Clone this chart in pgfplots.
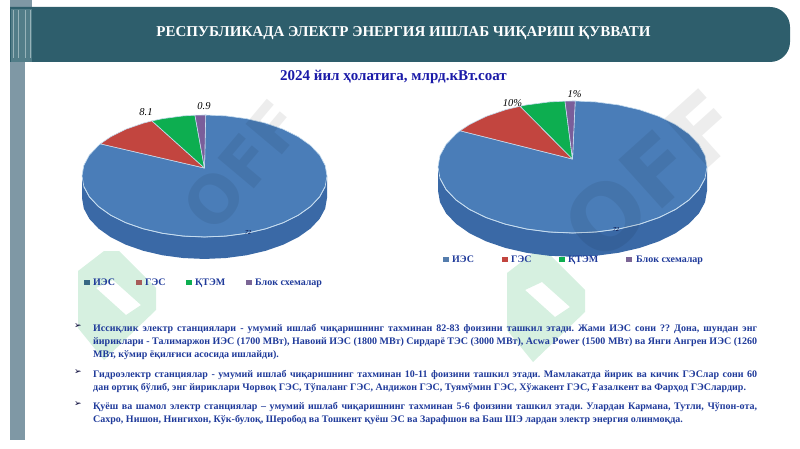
\documentclass[border=0pt]{standalone}
\usepackage{pgfplots}
\pgfplotsset{compat=1.18}
\usepackage{pgfplotstable}
\usepackage{fontspec}
\setmainfont{Liberation Serif}
\newfontfamily\dejavu{DejaVu Sans}
\frenchspacing
\definecolor{hdr}{HTML}{2E5E6C}
\definecolor{hdrl}{HTML}{6A929B}
\definecolor{strip}{HTML}{7F98A5}
\definecolor{pblue}{HTML}{4A7DB8}
\definecolor{pside}{HTML}{3A69A6}
\definecolor{pred}{HTML}{C2453F}
\definecolor{pgreen}{HTML}{0DAE50}
\definecolor{ppurple}{HTML}{7A5E9A}
\definecolor{rim}{HTML}{C5DCEF}
\definecolor{txtb}{HTML}{1F3A9A}
\definecolor{subt}{HTML}{1A1AA8}
\definecolor{wmg}{HTML}{D6F0E0}
\pgfplotsset{
 canvas/.style={at={(0pt,0pt)},anchor=south west,width=800pt,height=449pt,scale only axis,
   xmin=0,xmax=800,ymin=0,ymax=449,y dir=reverse,hide axis,clip=false},
 pie/.style={anchor=south west,scale only axis,xmin=-1,xmax=1,ymin=-1,ymax=1,hide axis,clip=false},
 wedge/.style={draw=rim,line width=0.6pt,fill=#1,no marks,line join=round},
}
% side wall and front rim, in units of the ellipse radii
\pgfplotstableread[row sep=\\]{x y\\
-1 0\\ -0.985 -0.174\\ -0.940 -0.342\\ -0.866 -0.5\\ -0.766 -0.643\\ -0.643 -0.766\\ -0.5 -0.866\\ -0.342 -0.940\\ -0.174 -0.985\\ 0 -1\\ 0.174 -0.985\\ 0.342 -0.940\\ 0.5 -0.866\\ 0.643 -0.766\\ 0.766 -0.643\\ 0.866 -0.5\\ 0.940 -0.342\\ 0.985 -0.174\\ 1 0\\
1 -0.36\\ 0.985 -0.534\\ 0.940 -0.702\\ 0.866 -0.86\\ 0.766 -1.003\\ 0.643 -1.126\\ 0.5 -1.226\\ 0.342 -1.30\\ 0.174 -1.345\\ 0 -1.36\\ -0.174 -1.345\\ -0.342 -1.30\\ -0.5 -1.226\\ -0.643 -1.126\\ -0.766 -1.003\\ -0.866 -0.86\\ -0.940 -0.702\\ -0.985 -0.534\\ -1 -0.36\\}\tside
\pgfplotstableread[row sep=\\]{x y\\
-0.985 -0.174\\ -0.940 -0.342\\ -0.866 -0.5\\ -0.766 -0.643\\ -0.643 -0.766\\ -0.5 -0.866\\ -0.342 -0.940\\ -0.174 -0.985\\ 0 -1\\ 0.174 -0.985\\ 0.342 -0.940\\ 0.5 -0.866\\ 0.643 -0.766\\ 0.766 -0.643\\ 0.866 -0.5\\ 0.940 -0.342\\ 0.985 -0.174\\}\trim
% left pie
\pgfplotstableread[row sep=\\]{x y\\
0 0.13\\ 0.01 1\\ 0.174 0.985\\ 0.342 0.940\\ 0.5 0.866\\ 0.643 0.766\\ 0.766 0.643\\ 0.866 0.5\\ 0.940 0.342\\ 0.985 0.174\\ 1 0\\ 0.985 -0.174\\ 0.940 -0.342\\ 0.866 -0.5\\ 0.766 -0.643\\ 0.643 -0.766\\ 0.5 -0.866\\ 0.342 -0.940\\ 0.174 -0.985\\ 0 -1\\ -0.174 -0.985\\ -0.342 -0.940\\ -0.5 -0.866\\ -0.643 -0.766\\ -0.766 -0.643\\ -0.866 -0.5\\ -0.940 -0.342\\ -0.985 -0.174\\ -1 0\\ -0.985 0.174\\ -0.940 0.342\\ -0.866 0.5\\ -0.85 0.527\\ 0 0.13\\}\lblue
\pgfplotstableread[row sep=\\]{x y\\ 0 0.13\\ -0.85 0.527\\ -0.766 0.643\\ -0.643 0.766\\ -0.5 0.866\\ -0.429 0.903\\ 0 0.13\\}\lred
\pgfplotstableread[row sep=\\]{x y\\ 0 0.13\\ -0.429 0.903\\ -0.342 0.940\\ -0.174 0.985\\ -0.078 0.997\\ 0 0.13\\}\lgreen
\pgfplotstableread[row sep=\\]{x y\\ 0 0.13\\ -0.078 0.997\\ 0 1\\ 0.01 1\\ 0 0.13\\}\lpurple
% right pie
\pgfplotstableread[row sep=\\]{x y\\
0 0.12\\ 0.02 1\\ 0.174 0.985\\ 0.342 0.940\\ 0.5 0.866\\ 0.643 0.766\\ 0.766 0.643\\ 0.866 0.5\\ 0.940 0.342\\ 0.985 0.174\\ 1 0\\ 0.985 -0.174\\ 0.940 -0.342\\ 0.866 -0.5\\ 0.766 -0.643\\ 0.643 -0.766\\ 0.5 -0.866\\ 0.342 -0.940\\ 0.174 -0.985\\ 0 -1\\ -0.174 -0.985\\ -0.342 -0.940\\ -0.5 -0.866\\ -0.643 -0.766\\ -0.766 -0.643\\ -0.866 -0.5\\ -0.940 -0.342\\ -0.985 -0.174\\ -1 0\\ -0.985 0.174\\ -0.940 0.342\\ -0.866 0.5\\ -0.836 0.549\\ 0 0.12\\}\rblue
\pgfplotstableread[row sep=\\]{x y\\ 0 0.12\\ -0.836 0.549\\ -0.766 0.643\\ -0.643 0.766\\ -0.5 0.866\\ -0.39 0.921\\ 0 0.12\\}\rred
\pgfplotstableread[row sep=\\]{x y\\ 0 0.12\\ -0.39 0.921\\ -0.342 0.940\\ -0.174 0.985\\ -0.056 0.998\\ 0 0.12\\}\rgreen
\pgfplotstableread[row sep=\\]{x y\\ 0 0.12\\ -0.056 0.998\\ 0 1\\ 0.02 1\\ 0 0.12\\}\rpurple
\newcommand{\greenmark}[2]{%
 \fill[wmg,even odd rule] (#1+507,#2+273) -- (#1+533,#2+253) -- (#1+548,#2+253) -- (#1+585,#2+290) -- (#1+585,#2+312) -- (#1+533,#2+362) -- (#1+507,#2+330) -- cycle
   (#1+525,#2+290) -- (#1+542,#2+282) -- (#1+570,#2+307) -- (#1+555,#2+317) -- cycle;}
\newcommand{\txtline}[3]{\node[anchor=base west,inner sep=0pt,font=\fontsize{10}{12}\selectfont\bfseries,text=txtb] at (93,#1+3) {\makebox[#2pt][s]{#3}};}
\newcommand{\lastline}[2]{\node[anchor=base west,inner sep=0pt,font=\fontsize{10}{12}\selectfont\bfseries,text=txtb] at (93,#1+3) {#2};}
\newcommand{\bul}[1]{\node[inner sep=0pt,font=\dejavu\fontsize{9}{10}\selectfont,text=black!80!blue] at (78,#1) {➢};}
\newcommand{\leg}[3]{\fill[#2] (#1-3,#3-2.5) rectangle (#1+3,#3+2.5);}
\newcommand{\legt}[3]{\node[anchor=base west,inner sep=0pt,font=\fontsize{10}{12}\selectfont\bfseries,text=txtb] at (#1,#3+3.2) {#2};}
\begin{document}
\begin{tikzpicture}
\begin{axis}[canvas]
 \path (0,0) rectangle (800,449);
 % header and side strip
 \fill[strip] (10,0) rectangle (32,7);
 \fill[strip] (10,60) rectangle (25,440);
 \fill[hdr] (10,7) [rounded corners=20pt] -- (790,7) -- (790,62) [sharp corners] -- (10,62) -- cycle;
 \fill[hdrl!60!hdr] (11,9) rectangle (32,62);
 \fill[hdrl!70!white] (13,10) rectangle (14.2,58);
 \fill[hdrl!70!white] (18,10) rectangle (19.2,58);
 \fill[hdrl!70!white] (25,10) rectangle (26.2,58);
 \fill[hdrl!70!white] (30,10) rectangle (31.2,58);
 \greenmark{0}{0}
 \greenmark{-429}{-2}
\end{axis}
\begin{axis}[pie,at={(82pt,212pt)},width=245pt,height=122pt]
 \addplot[fill=pside,draw=none,no marks] table[x=x,y=y] {\tside};
 \addplot[wedge=pblue] table[x=x,y=y] {\lblue};
 \addplot[wedge=pred] table[x=x,y=y] {\lred};
 \addplot[wedge=pgreen] table[x=x,y=y] {\lgreen};
 \addplot[wedge=ppurple] table[x=x,y=y] {\lpurple};
 \addplot[draw=rim,line width=0.8pt,no marks] table[x=x,y=y] {\trim};
\end{axis}
\begin{axis}[pie,at={(438pt,216pt)},width=269pt,height=132pt]
 \addplot[fill=pside,draw=none,no marks] table[x=x,y=y] {\tside};
 \addplot[wedge=pblue] table[x=x,y=y] {\rblue};
 \addplot[wedge=pred] table[x=x,y=y] {\rred};
 \addplot[wedge=pgreen] table[x=x,y=y] {\rgreen};
 \addplot[wedge=ppurple] table[x=x,y=y] {\rpurple};
 \addplot[draw=rim,line width=0.8pt,no marks] table[x=x,y=y] {\trim};
\end{axis}
\begin{axis}[canvas]
 % watermark over the pies
 \node[rotate=42,font=\dejavu\bfseries\fontsize{90}{90}\selectfont,text=black,opacity=0.07,inner sep=0pt] at (652,175) {OFF};
 \node[rotate=50,font=\dejavu\bfseries\fontsize{65}{65}\selectfont,text=black,opacity=0.07,inner sep=0pt] at (243,165) {OFF};
 % titles
 \node[font=\fontsize{15}{17}\selectfont\bfseries,text=white,inner sep=0pt] at (403.5,33) {РЕСПУБЛИКАДА ЭЛЕКТР ЭНЕРГИЯ ИШЛАБ ЧИҚАРИШ ҚУВВАТИ};
 \node[font=\fontsize{15}{17}\selectfont\bfseries,text=subt,inner sep=0pt] at (393.5,77) {2024 йил ҳолатига, млрд.кВт.соат};
 % data labels
 \node[font=\fontsize{10.5}{12}\selectfont\itshape,inner sep=0pt] at (146,112.5) {8.1};
 \node[font=\fontsize{10.5}{12}\selectfont\itshape,inner sep=0pt] at (204,106.5) {0.9};
 \node[font=\fontsize{10.5}{12}\selectfont\itshape,inner sep=0pt] at (512.5,103) {10\%};
 \node[font=\fontsize{10.5}{12}\selectfont\itshape,inner sep=0pt] at (574.5,94.5) {1\%};
 \node[font=\fontsize{6}{7}\selectfont\itshape,inner sep=0pt,text=black!80!blue] at (248,233) {72};
 \node[font=\fontsize{6}{7}\selectfont\itshape,inner sep=0pt,text=black!80!blue] at (616,230) {72};
 % legends
 \leg{87}{hdr!70!pblue}{282}\legt{93}{ИЭС}{282}
 \leg{139}{pred!60!gray}{282}\legt{145}{ГЭС}{282}
 \leg{189}{pgreen}{282}\legt{195}{ҚТЭМ}{282}
 \leg{249}{ppurple!80!gray}{282}\legt{255}{Блок схемалар}{282}
 \leg{446}{pblue!80!gray}{259}\legt{452}{ИЭС}{259}
 \leg{505}{pred}{259}\legt{511}{ГЭС}{259}
 \leg{562}{pgreen}{259}\legt{568}{ҚТЭМ}{259}
 \leg{629}{ppurple!80!gray}{259}\legt{636}{Блок схемалар}{259}
 % body text
 \bul{326}\bul{372}\bul{404}
 \txtline{328}{664}{Иссиқлик электр станциялари - умумий ишлаб чиқаришнинг тахминан 82-83 фоизини ташкил этади. Жами ИЭС сони ?? Дона, шундан энг}
 \txtline{341}{664}{йириклари - Талимаржон ИЭС (1700 МВт), Навоий ИЭС (1800 МВт) Сирдарё ТЭС (3000 МВт), Acwa Power (1500 МВт) ва Янги Ангрен ИЭС (1260}
 \lastline{354}{МВт, кўмир ёқилғиси асосида ишлайди).}
 \txtline{374}{664}{Гидроэлектр станциялар - умумий ишлаб чиқаришнинг тахминан 10-11 фоизини ташкил этади. Мамлакатда йирик ва кичик ГЭСлар сони 60}
 \lastline{387}{дан ортиқ бўлиб, энг йириклари Чорвоқ ГЭС, Тўпаланг ГЭС, Андижон ГЭС, Туямўмин ГЭС, Хўжакент ГЭС, Ғазалкент ва Фарҳод ГЭСлардир.}
 \txtline{406}{664}{Қуёш ва шамол электр станциялар – умумий ишлаб чиқаришнинг тахминан 5-6 фоизини ташкил этади. Улардан Кармана, Тутли, Чўпон-ота,}
 \lastline{419}{Сахро, Нишон, Нингихон, Кўк-булоқ, Шеробод ва Тошкент қуёш ЭС ва  Зарафшон ва Баш ШЭ лардан электр энергия олинмоқда.}
\end{axis}
\end{tikzpicture}
\end{document}
